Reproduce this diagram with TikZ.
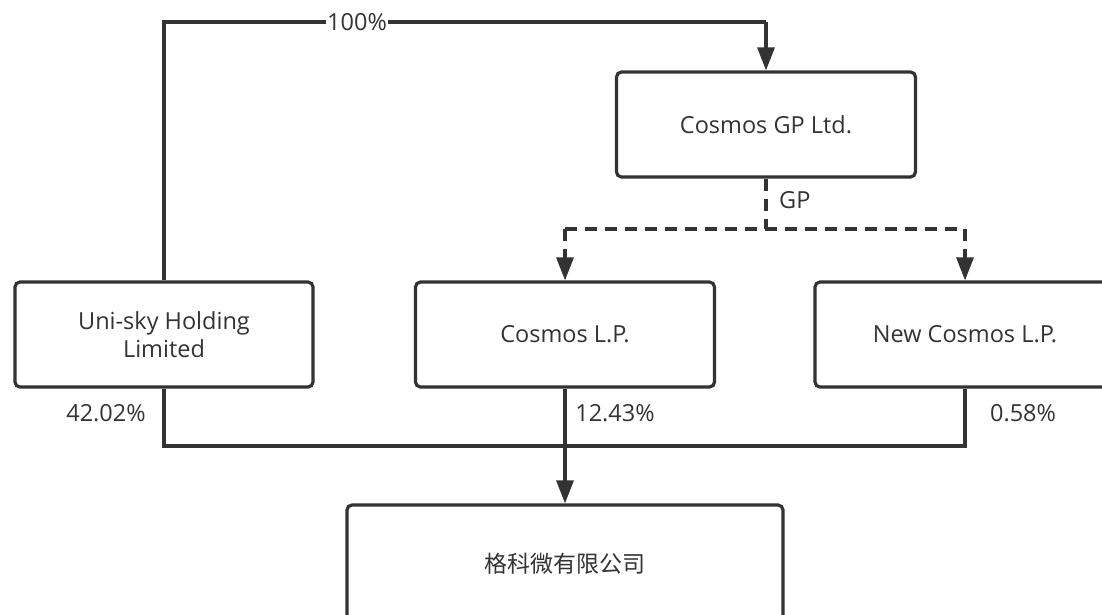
\documentclass[tikz,border=0pt]{standalone}
\usepackage{fontspec}
\setmainfont{Open Sans}
\newfontfamily\cjk{Noto Sans CJK SC}
\usetikzlibrary{arrows.meta}
\definecolor{ln}{HTML}{333333}
\definecolor{tx}{HTML}{333333}
\tikzset{
  ent/.style={draw=ln, line width=3.2pt, rounded corners=5pt, fill=white, align=center,
    text=tx, font=\fontsize{23.5}{28}\selectfont, inner sep=0pt},
  conn/.style={draw=ln, line width=3.2pt},
  arr/.style={conn, -{Triangle[length=23pt,width=17pt]}},
  dsh/.style={dash pattern=on 12pt off 8pt},
  pct/.style={text=tx, font=\fontsize{23.5}{28}\selectfont, inner sep=1pt},
}
\begin{document}
\begin{tikzpicture}[x=1pt,y=-1pt]
\useasboundingbox (0,0) rectangle (1102,614);
\node[ent, minimum width=299pt, minimum height=105pt] (gp) at (766,124.5) {Cosmos GP Ltd.};
\node[ent, minimum width=298pt, minimum height=105pt] (uni) at (164,334.5) {Uni-sky Holding\\Limited};
\node[ent, minimum width=299pt, minimum height=105pt] (clp) at (565,334.5) {Cosmos L.P.};
\node[ent, minimum width=300pt, minimum height=105pt] (ncp) at (965,334.5) {New Cosmos L.P.};
\node[ent, minimum width=436pt, minimum height=118pt, font=\cjk\fontsize{23}{28}\selectfont] (gk) at (565,564) {格科微有限公司};
\coordinate (top) at (164,22);
\coordinate (topr) at (766,22);
\coordinate (gpj) at (766,229);
\coordinate (dl) at (565,229);
\coordinate (dr) at (965,229);
\coordinate (bl) at (164,446);
\coordinate (br) at (965,446);
% 100%
\draw[conn] (uni.north) -- (top) -- (topr);
\draw[arr] (topr) -- (gp.north);
\node[pct, fill=white] (p100) at (357,22) {100\%};
% GP dashed
\draw[conn, dsh] (gp.south) -- (gpj);
\draw[conn, dsh] (dl) -- (dr);
\draw[arr, dsh] (dl) -- (clp.north);
\draw[arr, dsh] (dr) -- (ncp.north);
\node[pct, anchor=west] (gpl) at (778,200) {GP};
% bottom
\draw[conn] (uni.south) -- (bl) -- (br) -- (ncp.south);
\draw[arr] (clp.south) -- (gk.north);
\node[pct] (p1) at (106,413) {42.02\%};
\node[pct] (p2) at (615,413) {12.43\%};
\node[pct] (p3) at (1023,413) {0.58\%};
\end{tikzpicture}
\end{document}
